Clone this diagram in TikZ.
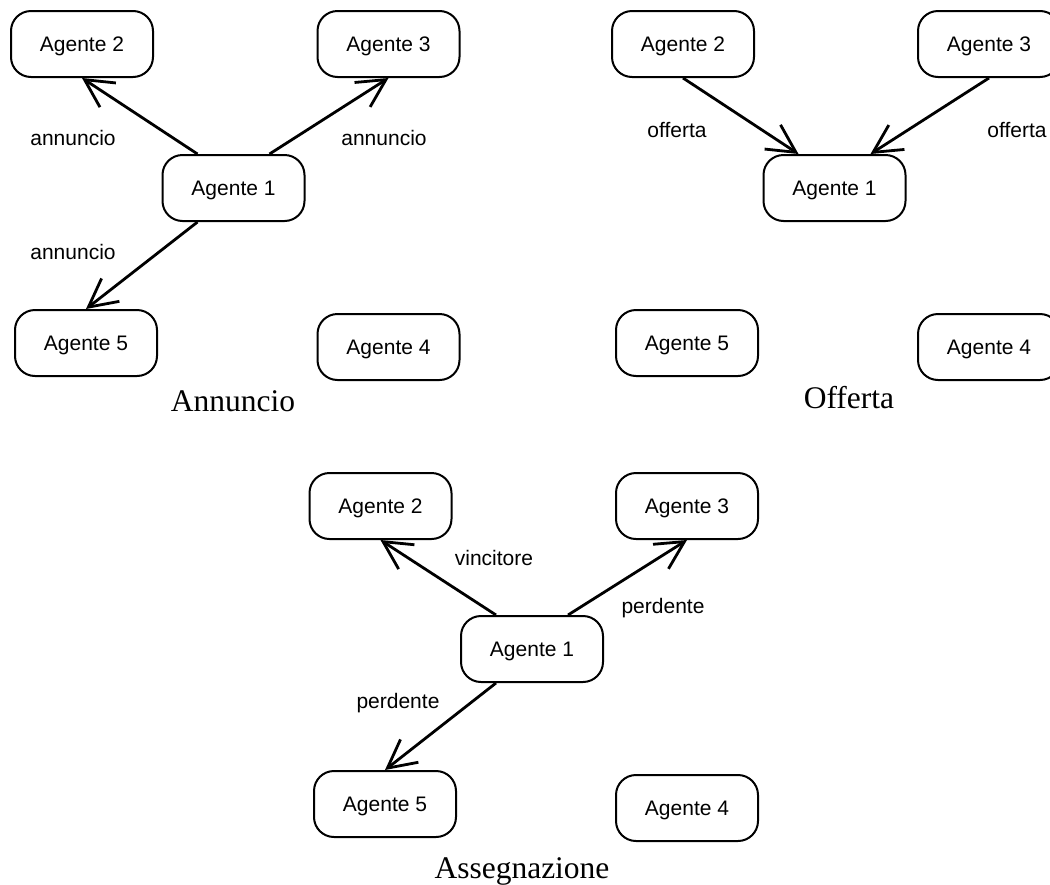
\documentclass[tikz,border=0pt]{standalone}
\usepackage{fontspec}
\setmainfont{Liberation Serif}
\newfontfamily\labelfont{Liberation Sans}
\usetikzlibrary{arrows.meta}
\begin{document}
\begin{tikzpicture}[x=1pt,y=-1pt,
  agent/.style={draw, line width=2pt, rounded corners=20pt,
    minimum width=142pt, minimum height=66pt, inner sep=0pt,
    font=\labelfont\fontsize{21}{25}\selectfont,
    text height=15pt, text depth=0pt},
  msg/.style={font=\labelfont\fontsize{21}{25}\selectfont, anchor=base, inner sep=0pt},
  phase/.style={font=\fontsize{31.5}{36}\selectfont, anchor=base, inner sep=0pt},
  arr/.style={line width=2.8pt, -{Straight Barb[length=28pt,width=29pt]}}]

\useasboundingbox (0,0) rectangle (1050,884);
\clip (0,0) rectangle (1050,884);

% --- Annuncio: Agente 1 broadcasts the announcement
\node[agent] (a2) at (82,44)    {Agente 2};
\node[agent] (a3) at (388.5,44) {Agente 3};
\node[agent] (a1) at (233.5,188) {Agente 1};
\node[agent] (a5) at (86,343)   {Agente 5};
\node[agent] (a4) at (388.5,347) {Agente 4};
\draw[arr] ([xshift=-36pt]a1.north) -- (a2.south);
\draw[arr] ([xshift=36pt]a1.north) -- (a3.south);
\draw[arr] ([xshift=-36pt]a1.south) -- (a5.north);
\node[msg] (la2) at (73,145) {annuncio};
\node[msg] (la3) at (384,145) {annuncio};
\node[msg] (la5) at (73,259) {annuncio};
\node[phase] (ta) at (233,411) {Annuncio};

% --- Offerta: bids sent back to Agente 1
\node[agent] (b2) at (683,44)    {Agente 2};
\node[agent] (b3) at (989,44)    {Agente 3};
\node[agent] (b1) at (834.5,188) {Agente 1};
\node[agent] (b5) at (687,343)   {Agente 5};
\node[agent] (b4) at (989,347)   {Agente 4};
\draw[arr] (b2.south) -- ([xshift=-36pt]b1.north);
\draw[arr] (b3.south) -- ([xshift=36pt]b1.north);
\node[msg] (lb2) at (677,137) {offerta};
\node[msg] (lb3) at (1017,137) {offerta};
\node[phase] (tb) at (849,408) {Offerta};

% --- Assegnazione: winner and losers notified
\node[agent] (c2) at (380.5,506) {Agente 2};
\node[agent] (c3) at (687,506)   {Agente 3};
\node[agent] (c1) at (532,649)   {Agente 1};
\node[agent] (c5) at (385,804)   {Agente 5};
\node[agent] (c4) at (687,808)   {Agente 4};
\draw[arr] ([xshift=-36pt]c1.north) -- (c2.south);
\draw[arr] ([xshift=36pt]c1.north) -- (c3.south);
\draw[arr] ([xshift=-36pt]c1.south) -- (c5.north);
\node[msg] (lc2) at (494,565) {vincitore};
\node[msg] (lc3) at (663,613) {perdente};
\node[msg] (lc5) at (398,708) {perdente};
\node[phase] (tc) at (522,878) {Assegnazione};
\end{tikzpicture}
\end{document}
